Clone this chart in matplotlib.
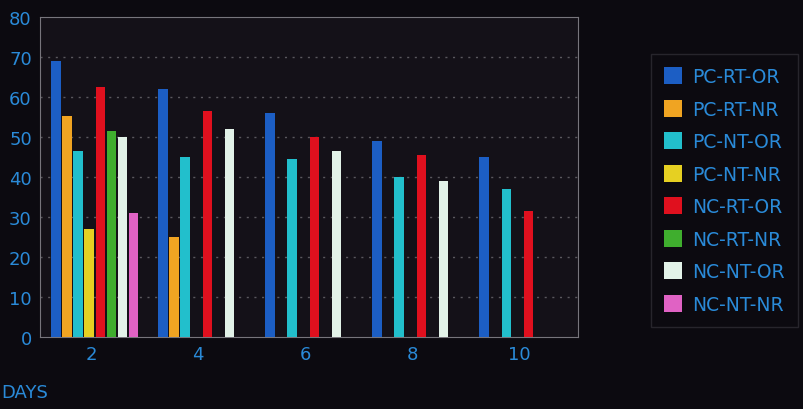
import numpy as np
import matplotlib.pyplot as plt
from matplotlib.patches import Patch

# Data per treatment, one value per day (None = not measured)
days = [2, 4, 6, 8, 10]
series_names = ['PC-RT-OR', 'PC-RT-NR', 'PC-NT-OR', 'PC-NT-NR',
                'NC-RT-OR', 'NC-RT-NR', 'NC-NT-OR', 'NC-NT-NR']
pc_rt_or = [69, 62, 56, 49, 45]
pc_rt_nr = [55.3, 25, None, None, None]
pc_nt_or = [46.5, 45, 44.5, 40, 37]
pc_nt_nr = [27, None, None, None, None]
nc_rt_or = [62.5, 56.5, 50, 45.5, 31.5]
nc_rt_nr = [51.5, None, None, None, None]
nc_nt_or = [50, 52, 46.5, 39, None]
nc_nt_nr = [31, None, None, None, None]
all_series = [pc_rt_or, pc_rt_nr, pc_nt_or, pc_nt_nr,
              nc_rt_or, nc_rt_nr, nc_nt_or, nc_nt_nr]

colors = ['#1c5ec4', '#f0a422', '#22bfcc', '#e6d022',
          '#e0101e', '#3fae2e', '#e2f2e8', '#e062c4']

bg = '#0c0a10'
text_col = '#2a8ad8'

fig = plt.figure(figsize=(8.04, 4.10), dpi=100, facecolor=bg)
ax = fig.add_axes([0.05, 0.176, 0.669, 0.78], facecolor='#141118')

slot = 0.207
width = 0.18
for k, (vals, c) in enumerate(zip(all_series, colors)):
    xs = [d + (k - 3.5) * slot + 0.07 for d, v in zip(days, vals) if v is not None]
    ys = [v for v in vals if v is not None]
    ax.bar(xs, ys, width=width, color=c, zorder=3)

ax.set_xlim(1.05, 11.1)
ax.set_ylim(0, 80)
ax.set_yticks(range(0, 81, 10))
ax.set_xticks(days)

# dotted grid
for y in range(10, 80, 10):
    ax.axhline(y, color='#5a585e', lw=1.0, ls=(0, (1.5, 4)), zorder=1)

for s in ax.spines.values():
    s.set_color('#77757c')
    s.set_linewidth(0.8)

ax.tick_params(axis='both', length=0, colors=text_col, labelsize=13)
ax.tick_params(axis='y', pad=6)
ax.tick_params(axis='x', pad=6)

fig.text(0.002, 0.02, 'DAYS', color=text_col, fontsize=13, ha='left', va='bottom')

handles = [Patch(facecolor=c, edgecolor='none') for c in colors]
leg = fig.legend(handles, series_names, loc='upper left',
                 bbox_to_anchor=(651 / 804, 1 - 55 / 410),
                 fontsize=13.5, labelcolor=text_col, frameon=True,
                 facecolor=bg, edgecolor='#2e2c34', fancybox=False,
                 handlelength=0.95, handleheight=1.0, handletextpad=0.55,
                 labelspacing=0.72, borderpad=0.7, borderaxespad=0)
leg.get_frame().set_linewidth(1.0)

fig.savefig('out.png', dpi=100, facecolor=bg)
